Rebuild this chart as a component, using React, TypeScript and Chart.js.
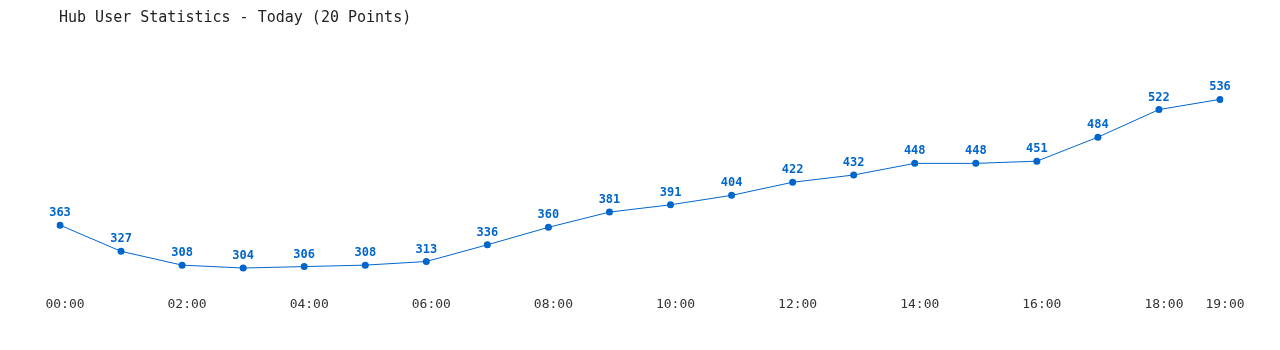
import React, { useEffect, useRef } from "react";
import { Chart, registerables } from "chart.js";

Chart.register(...registerables);

const TITLE = "Hub User Statistics - Today (20 Points)";
const hours = [
  "00:00", "01:00", "02:00", "03:00", "04:00", "05:00", "06:00", "07:00", "08:00", "09:00",
  "10:00", "11:00", "12:00", "13:00", "14:00", "15:00", "16:00", "17:00", "18:00", "19:00",
];
const users = [363, 327, 308, 304, 306, 308, 313, 336, 360, 381, 391, 404, 422, 432, 448, 448, 451, 484, 522, 536];
const shownTicks = ["00:00", "02:00", "04:00", "06:00", "08:00", "10:00", "12:00", "14:00", "16:00", "18:00", "19:00"];

const BLUE = "#0066cc";
const MONO = "'DejaVu Sans Mono', 'Liberation Mono', monospace";

export default function App() {
  const ref = useRef<HTMLCanvasElement | null>(null);

  useEffect(() => {
    if (!ref.current) return;
    const labelPlugin = {
      id: "pointLabels",
      afterDatasetsDraw(chart: any) {
        const ctx = chart.ctx;
        const meta = chart.getDatasetMeta(0);
        ctx.save();
        ctx.font = `bold 12px ${MONO}`;
        ctx.fillStyle = BLUE;
        ctx.textAlign = "center";
        ctx.textBaseline = "alphabetic";
        meta.data.forEach((pt: any, i: number) => {
          ctx.fillText(String(users[i]), pt.x, pt.y - 9);
        });
        ctx.restore();
      },
      afterDraw(chart: any) {
        const ctx = chart.ctx;
        ctx.save();
        ctx.font = `15px ${MONO}`;
        ctx.fillStyle = "#222";
        ctx.textAlign = "left";
        ctx.textBaseline = "middle";
        ctx.fillText(TITLE, 59, 18.5);
        ctx.restore();
      },
    };

    const chart = new Chart(ref.current, {
      type: "line",
      data: {
        labels: hours,
        datasets: [
          {
            data: users,
            borderColor: BLUE,
            backgroundColor: BLUE,
            borderWidth: 1,
            pointRadius: 3.5,
            pointHoverRadius: 3.5,
            pointBackgroundColor: BLUE,
            pointBorderWidth: 0,
            tension: 0,
            fill: false,
          },
        ],
      },
      options: {
        responsive: true,
        maintainAspectRatio: false,
        animation: false,
        layout: { padding: { left: 60, right: 60, top: 40, bottom: 30 } },
        plugins: {
          legend: { display: false },
          title: { display: false },
          tooltip: { enabled: false },
        },
        scales: {
          x: {
            offset: false,
            grid: { display: false, drawTicks: false },
            border: { display: false },
            ticks: {
              autoSkip: false,
              maxRotation: 0,
              padding: 8,
              labelOffset: 5,
              color: "#333",
              font: { family: MONO, size: 13 },
              callback: function (this: any, _v: any, i: number) {
                const l = hours[i];
                return shownTicks.includes(l) ? l : "";
              },
            },
          },
          y: {
            display: false,
            min: 276,
            max: 617.7,
          },
        },
      },
      plugins: [labelPlugin],
    });
    return () => chart.destroy();
  }, []);

  return (
    <div style={{ position: "fixed", left: 0, top: 0, width: 1280, height: 350, background: "#fff" }}>
      <canvas ref={ref} />
    </div>
  );
}
